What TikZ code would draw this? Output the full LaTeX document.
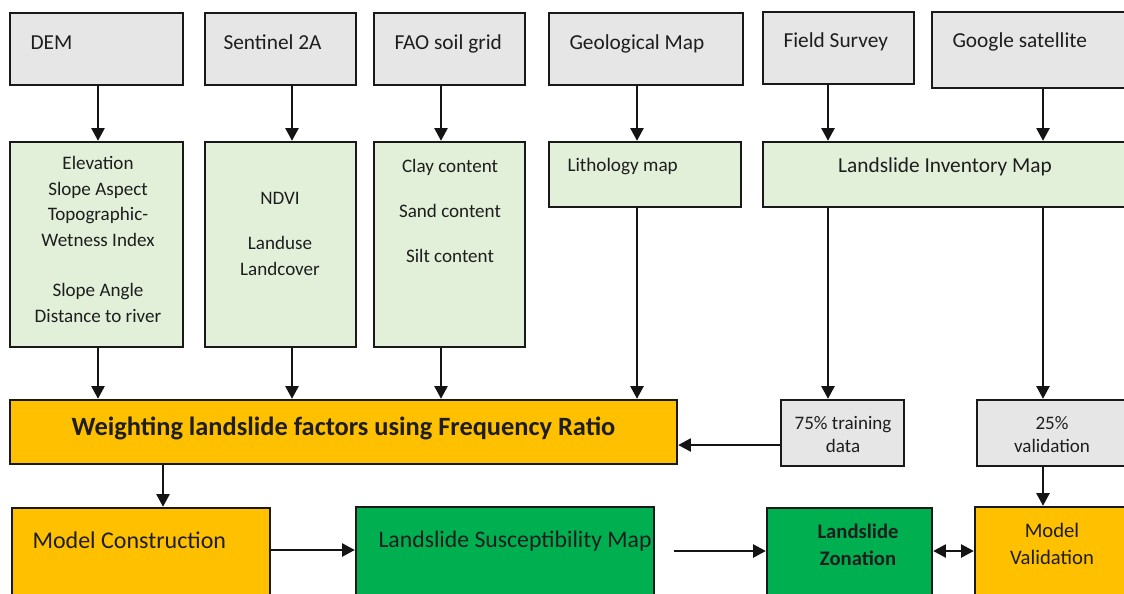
\documentclass[tikz,border=0pt]{standalone}
\usepackage{fontspec}
\setmainfont{Carlito}
\usetikzlibrary{arrows.meta,fit}

\tikzset{every picture/.style={line width=0.75pt}}
\tikzset{
  box/.style={draw={rgb, 255:red, 25; green, 25; blue, 25 }, line width=1.9pt, inner sep=0pt},
  gbox/.style={box, fill={rgb, 255:red, 230; green, 230; blue, 230 }},
  lgbox/.style={box, fill={rgb, 255:red, 226; green, 239; blue, 217 }},
  obox/.style={box, fill={rgb, 255:red, 255; green, 192; blue, 0 }},
  dgbox/.style={box, fill={rgb, 255:red, 0; green, 176; blue, 80 }},
  txt/.style={inner sep=0pt, text={rgb, 255:red, 30; green, 30; blue, 30 }, align=center},
  arr/.style={draw={rgb, 255:red, 20; green, 20; blue, 20 }, line width=1.1pt, -{Triangle[length=9.5pt,width=10pt]}},
}

\begin{document}
\begin{tikzpicture}[x=0.75pt,y=0.75pt,yscale=-1,xscale=1]
\useasboundingbox (0,0) rectangle (1124,593);
\clip (0,0) rectangle (1124,593);

%Shape: Rectangle [sources]
\node[gbox, fit={(10,13) (183,85)}] (dem) {};
\node[gbox, fit={(205,13) (356,85)}] (sen) {};
\node[gbox, fit={(374,13) (525,85)}] (fao) {};
\node[gbox, fit={(549,13) (743,85)}] (geo) {};
\node[gbox, fit={(763,12) (914,84)}] (fld) {};
\node[gbox, fit={(932,12) (1135,88)}] (ggl) {};
\node[txt, font=\fontsize{16}{19}\selectfont, anchor=base west] (demT) at (30,49) {DEM};
\node[txt, font=\fontsize{16}{19}\selectfont, anchor=base west] (senT) at (223,49) {Sentinel 2A};
\node[txt, font=\fontsize{16}{19}\selectfont, anchor=base west] (faoT) at (394,49) {FAO soil grid};
\node[txt, font=\fontsize{16}{19}\selectfont, anchor=base west] (geoT) at (569,49) {Geological Map};
\node[txt, font=\fontsize{16}{19}\selectfont, anchor=base west] (fldT) at (783,47) {Field Survey};
\node[txt, font=\fontsize{16}{19}\selectfont, anchor=base west] (gglT) at (952,47) {Google satellite};

%Shape: Rectangle [factors]
\node[lgbox, fit={(10,142) (183,347)}] (elev) {};
\node[lgbox, fit={(205,142) (356,347)}] (ndvi) {};
\node[lgbox, fit={(374,142) (525,347)}] (clay) {};
\node[lgbox, fit={(549,142) (741,207)}] (lith) {};
\node[lgbox, fit={(763,142) (1135,207)}] (inv) {};
\node[txt, font=\fontsize{14.3}{19.05}\selectfont] (elevT) at (98,239.5) {Elevation\\Slope Aspect\\Topographic-\\Wetness Index\\[19.05pt]Slope Angle\\Distance to river};
\node[txt, font=\fontsize{14.3}{19.05}\selectfont] (ndviT) at (280,234) {NDVI\\[14.7pt]Landuse\\Landcover};
\node[txt, font=\fontsize{14.3}{33.75}\selectfont] (clayT) at (450,210.5) {Clay content\\Sand content\\Silt content};
\node[txt, font=\fontsize{14.4}{19}\selectfont, anchor=base west] (lithT) at (567,171) {Lithology map};
\node[txt, font=\fontsize{16}{19}\selectfont, anchor=base] (invT) at (945,172) {Landslide Inventory Map};

%Shape: Rectangle [weighting]
\node[obox, fit={(10,400) (677,464)}] (wfr) {};
\node[gbox, fit={(781,400) (904,466)}] (trn) {};
\node[gbox, fit={(977,400) (1135,466)}] (val) {};
\node[txt, font=\fontsize{19.8}{22}\selectfont\bfseries, anchor=base] (wfrT) at (343.5,435) {Weighting landslide factors using Frequency Ratio};
\node[txt, font=\fontsize{14.3}{17.25}\selectfont] (trnT) at (843,434.5) {75\% training\\data};
\node[txt, font=\fontsize{14.3}{17.25}\selectfont] (valT) at (1052,434.5) {25\%\\validation};

%Shape: Rectangle [results]
\node[obox, fit={(12,508) (270,600)}] (mc) {};
\node[dgbox, fit={(356,507) (654,600)}] (lsm) {};
\node[dgbox, fit={(767,508) (932,600)}] (zon) {};
\node[obox, fit={(975,507) (1135,600)}] (mv) {};
\node[txt, font=\fontsize{18}{22}\selectfont, anchor=base west] (mcT) at (32,548.5) {Model Construction};
\node[txt, font=\fontsize{17.8}{22}\selectfont, anchor=base west] (lsmT) at (378,547.5) {Landslide Susceptibility Map};
\node[txt, font=\fontsize{15.5}{20.25}\selectfont\bfseries] (zonT) at (858,544.5) {Landslide\\Zonation};
\node[txt, font=\fontsize{15.5}{20.25}\selectfont] (mvT) at (1052,543.5) {Model\\Validation};

%Straight Lines [arrows]
\draw[arr] (98,0 |- dem.south) -- (98,0 |- elev.north);
\draw[arr] (292,0 |- sen.south) -- (292,0 |- ndvi.north);
\draw[arr] (441,0 |- fao.south) -- (441,0 |- clay.north);
\draw[arr] (637,0 |- geo.south) -- (637,0 |- lith.north);
\draw[arr] (828,0 |- fld.south) -- (828,0 |- inv.north);
\draw[arr] (1043,0 |- ggl.south) -- (1043,0 |- inv.north);
\draw[arr] (98,0 |- elev.south) -- (98,0 |- wfr.north);
\draw[arr] (292,0 |- ndvi.south) -- (292,0 |- wfr.north);
\draw[arr] (441,0 |- clay.south) -- (441,0 |- wfr.north);
\draw[arr] (637,0 |- lith.south) -- (637,0 |- wfr.north);
\draw[arr] (828,0 |- inv.south) -- (828,0 |- trn.north);
\draw[arr] (1043,0 |- inv.south) -- (1043,0 |- val.north);
\draw[arr] (0,445 -| trn.west) -- (0,445 -| wfr.east);
\draw[arr] (163,0 |- wfr.south) -- (163,0 |- mc.north);
\draw[arr] (1043,0 |- val.south) -- (1043,0 |- mv.north);
\draw[arr] (0,550 -| mc.east) -- (0,550 -| lsm.west);
\draw[arr, shorten <=14.25pt] (0,551 -| lsm.east) -- (0,551 -| zon.west);
\draw[arr, {Triangle[length=9.5pt,width=10pt]}-{Triangle[length=9.5pt,width=10pt]}] (0,551 -| zon.east) -- (0,551 -| mv.west);
\end{tikzpicture}
\end{document}
